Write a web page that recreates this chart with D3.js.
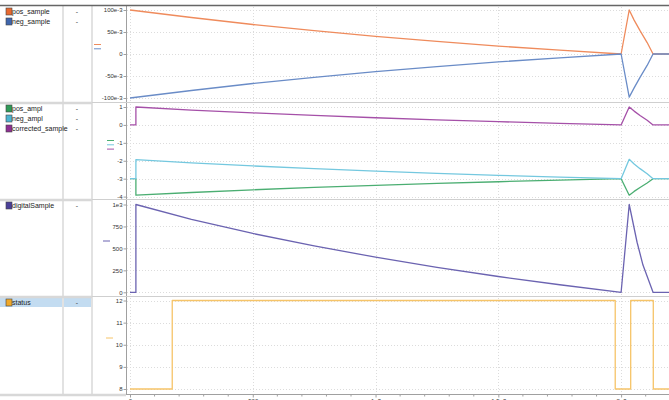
<!DOCTYPE html>
<html>
<head>
<meta charset="utf-8">
<script src="https://cdn.jsdelivr.net/npm/d3@7"></script>
<style>
  body { margin: 0; background: #fff; }
  svg { display: block; font-family: "Liberation Sans", Arial, sans-serif; }
</style>
</head>
<body>
<div id="chart"></div>
<script>
// signal data
const sampleTime = [0, 250, 500, 750, 1000, 1250, 1500, 1750, 2000, 2033, 2053, 2077, 2106, 2130, 2195];
const posSample = [0.1, 0.083, 0.067, 0.053, 0.040, 0.0285, 0.018, 0.0086, 0, 0.1, 0.077, 0.053, 0.026, 0, 0];
const negSample = [-0.1, -0.083, -0.067, -0.053, -0.040, -0.0285, -0.018, -0.0086, 0, -0.098, -0.077, -0.053, -0.026, 0, 0];

const amplTime = [0, 24, 24, 250, 500, 750, 1000, 1250, 1500, 1750, 2000, 2033, 2053, 2077, 2106, 2130, 2195];
const posAmpl = [-3, -3, -3.92, -3.77, -3.62, -3.49, -3.37, -3.26, -3.17, -3.08, -3, -3.92, -3.71, -3.49, -3.24, -3, -3];
const negAmpl = [-3, -3, -1.94, -2.12, -2.29, -2.44, -2.58, -2.70, -2.81, -2.91, -3, -1.92, -2.18, -2.44, -2.72, -3, -3];
const correctedSample = [0, 0, 1, 0.83, 0.67, 0.53, 0.40, 0.285, 0.18, 0.086, 0, 1, 0.77, 0.53, 0.26, 0, 0];

const digitalTime = [0, 24, 24, 250, 500, 750, 1000, 1250, 1500, 1750, 2000, 2033, 2065, 2089, 2130, 2195];
const digitalSample = [0, 0, 1000, 830, 670, 530, 400, 285, 180, 86, 0, 1000, 570, 310, 0, 0];

const statusTime = [0, 172, 1976, 2039, 2131, 2195];
const statusValue = [8, 12, 8, 12, 8, 8];

const xTicks = [0, 500, 1000, 1500, 2000];
const xTickLabels = ['0', '500', '1e3', '1.5e3', '2e3'];

const p1Ticks = [-0.1, -0.05, 0, 0.05, 0.1];
const p1Labels = ['-100e-3', '-50e-3', '0', '50e-3', '100e-3'];
const p2Ticks = [-4, -3, -2, -1, 0, 1];
const p2Labels = ['-4', '-3', '-2', '-1', '0', '1'];
const p3Ticks = [0, 250, 500, 750, 1000];
const p3Labels = ['0', '250', '500', '750', '1e3'];
const p4Ticks = [8, 9, 10, 11, 12];
const p4Labels = ['8', '9', '10', '11', '12'];

const width = 669;
const height = 400;

const panels = [
  { top: 5, bottom: 102, domain: [-0.1, 0.1], range: [98, 10], ticks: p1Ticks, labels: p1Labels, dashX: 94, dashY: 44.5 },
  { top: 102, bottom: 199, domain: [-4, 1], range: [196.6, 107], ticks: p2Ticks, labels: p2Labels, dashX: 107, dashY: 140.5 },
  { top: 199, bottom: 296, domain: [0, 1000], range: [292.3, 204.5], ticks: p3Ticks, labels: p3Labels, dashX: 103, dashY: 241 },
  { top: 296, bottom: 394, domain: [8, 12], range: [389, 300.5], ticks: p4Ticks, labels: p4Labels, dashX: 106, dashY: 338 }
];

const series = [
  { name: 'pos_sample', panel: 0, t: sampleTime, v: posSample, color: '#ef8b5c', swatch: '#e8692f' },
  { name: 'neg_sample', panel: 0, t: sampleTime, v: negSample, color: '#6a8cc7', swatch: '#3f66ad' },
  { name: 'pos_ampl', panel: 1, t: amplTime, v: posAmpl, color: '#4bae72', swatch: '#2f9a57' },
  { name: 'neg_ampl', panel: 1, t: amplTime, v: negAmpl, color: '#74c8df', swatch: '#4db3d0' },
  { name: 'corrected_sample', panel: 1, t: amplTime, v: correctedSample, color: '#a550a8', swatch: '#8e2f92' },
  { name: 'digitalSample', panel: 2, t: digitalTime, v: digitalSample, color: '#6b63b1', swatch: '#4a3f98' },
  { name: 'status', panel: 3, t: statusTime, v: statusValue, color: '#f6c468', swatch: '#f0a92a', step: true }
];

const svg = d3.select('#chart').append('svg')
  .attr('width', width)
  .attr('height', height);

const x = d3.scaleLinear().domain([0, 2195]).range([130, 669]);

// selected row highlight
svg.append('rect')
  .attr('x', 0).attr('y', 297.5)
  .attr('width', 92).attr('height', 9.5)
  .attr('fill', '#c3dcf1');

// left column separators
[63, 92].forEach((cx) => {
  svg.append('line')
    .attr('x1', cx).attr('x2', cx)
    .attr('y1', 5).attr('y2', 395)
    .attr('stroke', '#e2e2e2')
    .attr('stroke-width', 2);
});

panels.forEach((p, pi) => {
  const y = d3.scaleLinear().domain(p.domain).range(p.range);
  p.y = y;
  const g = svg.append('g');

  // horizontal grid
  g.selectAll('.hgrid')
    .data(p.ticks)
    .enter()
    .append('line')
    .attr('x1', 127).attr('x2', width)
    .attr('y1', (d) => Math.round(y(d)) + 0.5)
    .attr('y2', (d) => Math.round(y(d)) + 0.5)
    .attr('stroke', '#dcdcdc')
    .attr('stroke-dasharray', '1,2');

  // vertical grid
  g.selectAll('.vgrid')
    .data(xTicks)
    .enter()
    .append('line')
    .attr('x1', (d) => Math.round(x(d)) + 0.5)
    .attr('x2', (d) => Math.round(x(d)) + 0.5)
    .attr('y1', p.top + 2).attr('y2', p.bottom - 1)
    .attr('stroke', '#dcdcdc')
    .attr('stroke-dasharray', '1,2');

  const axis = d3.axisLeft(y)
    .tickValues(p.ticks)
    .tickFormat((d, i) => p.labels[i])
    .tickSize(3)
    .tickPadding(1);

  const ag = g.append('g')
    .attr('transform', 'translate(126.5,0)')
    .call(axis);
  ag.select('.domain').attr('stroke', '#a0a0a0').attr('d', `M0,${p.top + 1}V${p.bottom}`);
  ag.selectAll('.tick line').attr('stroke', '#a0a0a0');
  ag.selectAll('.tick text')
    .attr('font-size', 6)
    .attr('font-family', '"Liberation Sans", Arial, sans-serif')
    .attr('fill', '#333');

  // panel separator
  if (pi > 0) {
    svg.append('line')
      .attr('x1', 0).attr('x2', 92)
      .attr('y1', p.top + 1).attr('y2', p.top + 1)
      .attr('stroke', '#d8d8d8')
      .attr('stroke-width', 2.5);
    svg.append('line')
      .attr('x1', 92).attr('x2', width)
      .attr('y1', p.top + 0.5).attr('y2', p.top + 0.5)
      .attr('stroke', '#cfcfcf');
  }
});

// bottom separator of the name column
svg.append('line')
  .attr('x1', 0).attr('x2', 126)
  .attr('y1', 395).attr('y2', 395)
  .attr('stroke', '#d8d8d8')
  .attr('stroke-width', 2.5);

// top border
svg.append('line')
  .attr('x1', 0).attr('x2', width)
  .attr('y1', 5.5).attr('y2', 5.5)
  .attr('stroke', '#666')
  .attr('stroke-width', 1.5);

// traces
series.forEach((s) => {
  const p = panels[s.panel];
  const pts = s.t.map((t, i) => [t, s.v[i]]);
  const line = d3.line()
    .x((d) => x(d[0]))
    .y((d) => p.y(d[1]))
    .curve(s.step ? d3.curveStepAfter : d3.curveLinear);
  svg.append('path')
    .datum(pts)
    .attr('d', line)
    .attr('fill', 'none')
    .attr('stroke', s.color)
    .attr('stroke-width', 1.3)
    .attr('stroke-linejoin', 'round');
});

// name column
const byPanel = d3.group(series, (s) => s.panel);
byPanel.forEach((list, pi) => {
  const p = panels[pi];
  list.forEach((s, i) => {
    const cy = p.top + 6.5 + i * 10;
    svg.append('rect')
      .attr('x', 6).attr('y', cy - 3.5)
      .attr('width', 6).attr('height', 7)
      .attr('fill', s.swatch)
      .attr('stroke', '#444')
      .attr('stroke-width', 0.6);
    svg.append('text')
      .attr('x', 12).attr('y', cy + 2.5)
      .attr('font-size', 7)
      .attr('fill', '#222')
      .text(s.name);
    svg.append('text')
      .attr('x', 77).attr('y', cy + 2.5)
      .attr('font-size', 7)
      .attr('text-anchor', 'middle')
      .attr('fill', '#444')
      .text('-');
    // little line sample beside the axis
    svg.append('line')
      .attr('x1', p.dashX).attr('x2', p.dashX + 7)
      .attr('y1', p.dashY + i * 4.3).attr('y2', p.dashY + i * 4.3)
      .attr('stroke', s.color)
      .attr('stroke-width', 1);
  });
});

// shared x axis
const xAxis = d3.axisBottom(x)
  .tickValues(xTicks)
  .tickFormat((d, i) => xTickLabels[i])
  .tickSize(3)
  .tickPadding(1);
const xg = svg.append('g')
  .attr('transform', 'translate(0,394.5)')
  .call(xAxis);
xg.select('.domain').attr('stroke', '#a0a0a0').attr('d', `M126,0H${width}`);
xg.selectAll('.tick line').attr('stroke', '#a0a0a0');
xg.selectAll('.tick text')
  .attr('font-size', 6)
  .attr('font-family', '"Liberation Sans", Arial, sans-serif')
  .attr('fill', '#333');

// minor x ticks every 100
xg.selectAll('.minor')
  .data(d3.range(100, 2195, 100).filter((d) => d % 500 !== 0))
  .enter()
  .append('line')
  .attr('x1', (d) => x(d)).attr('x2', (d) => x(d))
  .attr('y1', 0).attr('y2', 2)
  .attr('stroke', '#a0a0a0');
</script>
</body>
</html>
